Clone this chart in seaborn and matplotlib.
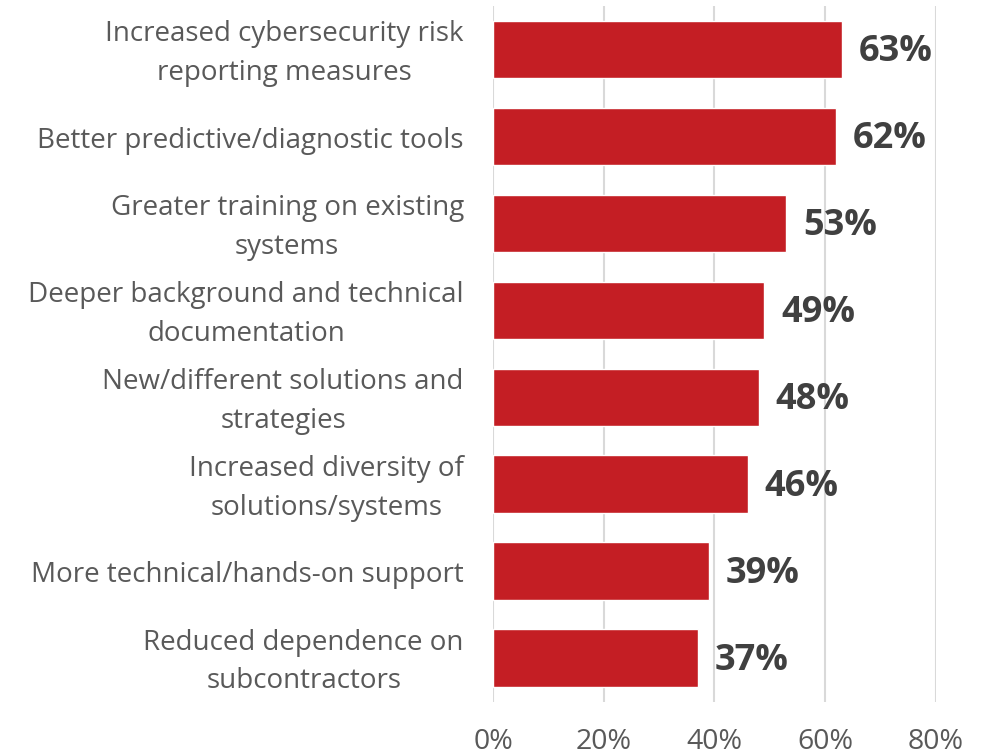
import matplotlib
matplotlib.use("Agg")
import matplotlib.pyplot as plt
import matplotlib.transforms as mtransforms
import seaborn as sns
import pandas as pd
from matplotlib.ticker import PercentFormatter

categories = [
    "Increased cybersecurity risk\nreporting measures",
    "Better predictive/diagnostic tools",
    "Greater training on existing\nsystems",
    "Deeper background and technical\ndocumentation",
    "New/different solutions and\nstrategies",
    "Increased diversity of\nsolutions/systems",
    "More technical/hands-on support",
    "Reduced dependence on\nsubcontractors",
]
values = [63, 62, 53, 49, 48, 46, 39, 37]
ticks = [0, 20, 40, 60, 80]

df = pd.DataFrame({"category": categories, "value": values})

sns.set_style("white")
plt.rcParams["font.family"] = ["Open Sans", "DejaVu Sans"]

fig = plt.figure(figsize=(9.87, 7.54), dpi=100)
ax = fig.add_axes([0.4995, 0.0696, 0.4488, 0.9224])

sns.barplot(data=df, x="value", y="category", orient="h", color="#C41E24",
            saturation=1, width=0.66, ax=ax, zorder=3)

ax.set_xlim(0, 80)
ax.set_xticks(ticks)
ax.xaxis.set_major_formatter(PercentFormatter(decimals=0))
ax.grid(axis="x", color="#D9D9D9", linewidth=1.5, zorder=0)
ax.set_axisbelow(True)
for s in ax.spines.values():
    s.set_visible(False)
ax.set_xlabel("")
ax.set_ylabel("")
ax.tick_params(axis="x", length=0, pad=19, labelsize=20.5, labelcolor="#595959")
ax.tick_params(axis="y", length=0, pad=21, labelsize=20, labelcolor="#595959")

# nudge the category labels slightly downward
shift = mtransforms.ScaledTranslation(0, -3 / 72, fig.dpi_scale_trans)
for lbl in ax.get_yticklabels():
    lbl.set_multialignment("center")
    lbl.set_linespacing(1.5)
    lbl.set_verticalalignment("center")
    lbl.set_transform(lbl.get_transform() + shift)

for i, v in enumerate(values):
    ax.text(v + 3.0, i + 0.03, f"{v}%", va="center", ha="left", fontsize=26,
            fontweight="bold", color="#404040")

fig.savefig("out.png", dpi=100)
